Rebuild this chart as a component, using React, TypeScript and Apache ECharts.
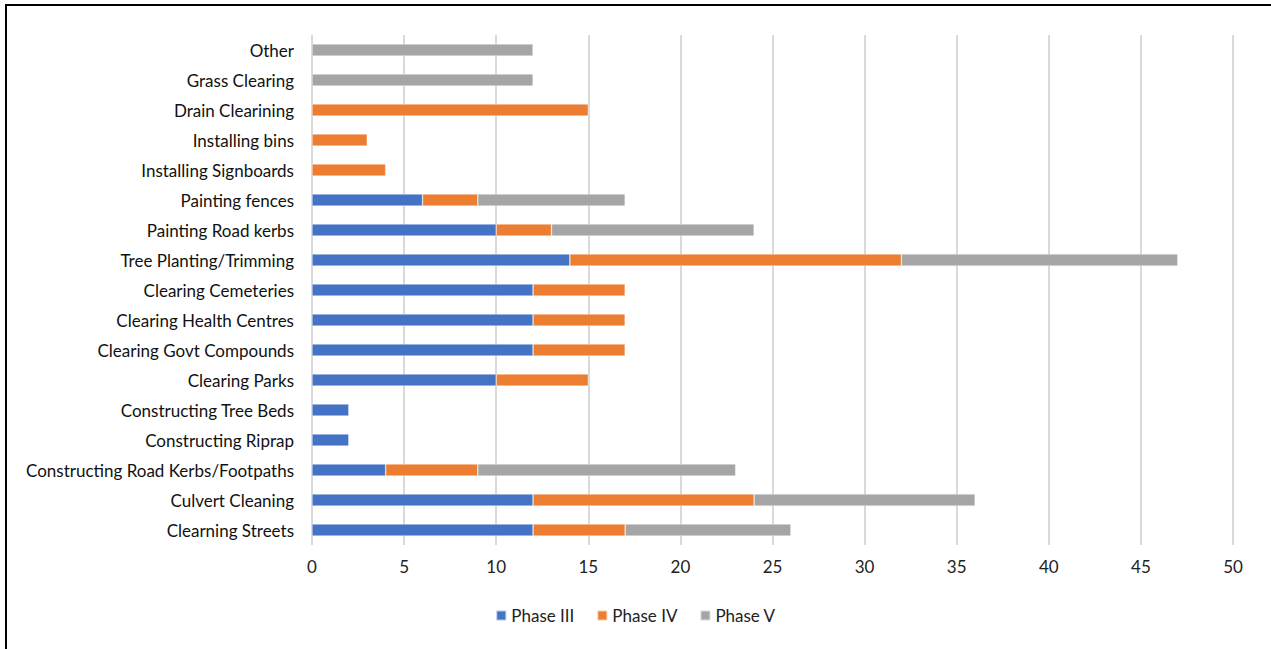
import React, { useEffect, useRef } from "react";
import * as echarts from "echarts";

const categories = [
  "Clearning Streets",
  "Culvert Cleaning",
  "Constructing Road Kerbs/Footpaths",
  "Constructing Riprap",
  "Constructing Tree Beds",
  "Clearing Parks",
  "Clearing Govt Compounds",
  "Clearing Health Centres",
  "Clearing Cemeteries",
  "Tree Planting/Trimming",
  "Painting Road kerbs",
  "Painting fences",
  "Installing Signboards",
  "Installing bins",
  "Drain Clearining",
  "Grass Clearing",
  "Other",
];

const phaseIII = [12, 12, 4, 2, 2, 10, 12, 12, 12, 14, 10, 6, null, null, null, null, null];
const phaseIV = [5, 12, 5, null, null, 5, 5, 5, 5, 18, 3, 3, 4, 3, 15, null, null];
const phaseV = [9, 12, 14, null, null, null, null, null, null, 15, 11, 8, null, null, null, 12, 12];

const xTicks = { min: 0, max: 50, interval: 5 };

const FONT = "Lato, 'Open Sans', sans-serif";

export default function App() {
  const ref = useRef<HTMLDivElement>(null);
  useEffect(() => {
    if (!ref.current) return;
    const chart = echarts.init(ref.current, undefined, { renderer: "svg" });
    const mk = (name: string, data: (number | null)[], color: string) => ({
      name,
      type: "bar",
      stack: "total",
      data,
      barWidth: 12,
      itemStyle: { color, borderColor: "rgba(255,255,255,0.6)", borderWidth: 0.6 },
    });
    chart.setOption({
      animation: false,
      backgroundColor: "#fff",
      textStyle: { fontFamily: FONT },
      grid: { left: 312, right: 38, top: 35, bottom: 104, containLabel: false },
      xAxis: {
        type: "value",
        min: xTicks.min,
        max: xTicks.max,
        interval: xTicks.interval,
        axisLine: { show: false },
        axisTick: { show: false },
        splitLine: { lineStyle: { color: "#d9d9d9", width: 2 } },
        axisLabel: { color: "#222", fontSize: 17, fontFamily: FONT, margin: 13 },
      },
      yAxis: {
        type: "category",
        data: categories,
        axisLine: { show: false },
        axisTick: { show: false },
        axisLabel: { color: "#111", fontSize: 17, fontFamily: FONT, margin: 18, padding: [0, 0, 4, 0] },
      },
      legend: {
        bottom: 20,
        left: "center",
        itemWidth: 10,
        itemHeight: 10,
        itemGap: 22,
        icon: "rect",
        textStyle: { color: "#222", fontSize: 17, fontFamily: FONT },
        data: ["Phase III", "Phase IV", "Phase V"],
      },
      graphic: [
        { type: "line", shape: { x1: 5, y1: 5, x2: 1271, y2: 5 }, style: { stroke: "#000", lineWidth: 2 } },
        { type: "line", shape: { x1: 6, y1: 5, x2: 6, y2: 649 }, style: { stroke: "#000", lineWidth: 2 } },
      ],
      series: [
        mk("Phase III", phaseIII, "#4472C4"),
        mk("Phase IV", phaseIV, "#ED7D31"),
        mk("Phase V", phaseV, "#A5A5A5"),
      ],
    });
    return () => chart.dispose();
  }, []);
  return (
    <div
      ref={ref}
      style={{ position: "fixed", left: 0, top: 0, width: 1271, height: 649 }}
    />
  );
}
